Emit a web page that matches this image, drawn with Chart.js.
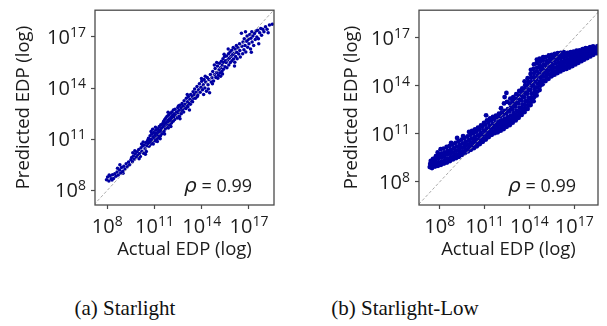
<!DOCTYPE html>
<html>
<head>
<meta charset="utf-8">
<script src="https://cdn.jsdelivr.net/npm/chart.js@4.4.0/dist/chart.umd.min.js"></script>
<style>
  body { margin: 0; background: #fff; }
  #wrap { position: relative; width: 607px; height: 326px; overflow: hidden; }
  canvas { position: absolute; top: 0; }
  .cap { position: absolute; top: 298px; width: 240px; text-align: center;
         font: 21px "Liberation Serif", "Times New Roman", serif; line-height: 21px; color: #111; }
</style>
</head>
<body>
<div id="wrap">
  <canvas id="chartA" width="300" height="270" style="left:0"></canvas>
  <canvas id="chartB" width="307" height="270" style="left:300px"></canvas>
  <div class="cap" style="left:5px">(a) Starlight</div>
  <div class="cap" style="left:285px">(b) Starlight-Low</div>
</div>
<script>
// values are log10 exponents: [actual, predicted]
const starlightPts = [
  [7.95,8.62],[8.02,8.78],[8.1,8.55],[8.18,8.84],[8.25,8.68],[8.33,8.92],[8.4,8.7],[8.48,8.98],[8.55,8.82],[8.62,9.08],
  [8.7,8.9],[8.78,9.2],[8.85,9.02],[8.9,9.34],[8.98,9.12],[9.05,9.42],[9.12,9.25],[9.2,9.56],[9.28,9.38],[9.35,9.66],
  [9.42,9.5],[9.5,9.8],[8.3,8.6],[8.65,9.3],[9.0,9.0],[8.12,8.9],[8.8,9.5],
  [9.55,9.92],[9.6,9.68],[9.66,10.02],[9.72,9.82],[9.78,10.14],[9.84,9.96],[9.9,10.26],[9.95,10.06],[10.0,10.4],[10.05,10.16],
  [10.1,9.98],[10.14,10.5],[10.2,10.3],[10.25,10.6],[10.3,10.18],[10.35,10.66],[10.4,10.44],[10.45,10.8],[10.48,10.28],[10.52,10.62],
  [9.75,10.32],[10.02,9.86],[10.28,10.84],[10.42,10.12],[9.62,10.2],[10.18,10.72],
  [10.56,10.92],[10.6,10.75],[10.62,11.05],[10.65,10.58],[10.7,10.95],[10.72,11.2],[10.75,10.7],[10.8,11.0],[10.82,11.3],[10.85,10.85],
  [10.9,11.15],[10.92,10.72],[10.95,11.4],[11.0,11.05],[11.02,11.25],[11.05,10.9],[11.08,11.52],[11.1,11.15],[11.12,11.35],[11.15,11.0],
  [11.2,11.62],[11.22,11.25],[11.25,11.45],[11.28,11.1],[11.3,11.75],[11.32,11.4],[11.35,11.56],[11.38,11.2],[11.4,11.85],[11.42,11.5],
  [11.45,11.66],[11.48,11.32],[10.78,11.45],[11.18,10.86],[10.68,10.82],[11.06,11.7],[10.88,11.58],[11.36,11.02],
  [11.52,11.92],[11.55,11.75],[11.58,12.05],[11.6,11.45],[11.62,11.85],[11.65,12.15],[11.68,11.6],[11.7,11.95],[11.72,12.25],[11.75,11.7],
  [11.78,12.0],[11.8,12.35],[11.82,11.8],[11.85,12.1],[11.88,11.66],[11.9,12.42],[11.92,12.0],[11.95,12.2],[11.98,11.85],[12.0,12.52],
  [12.02,12.1],[12.05,12.3],[12.08,11.95],[12.1,12.6],[12.12,12.2],[12.15,12.4],[12.18,12.05],[12.2,12.72],[12.22,12.3],[12.25,12.5],
  [12.28,12.15],[12.3,12.76],[12.35,12.4],[12.4,12.6],[12.45,12.25],[12.48,12.86],[11.64,11.3],[12.04,11.74],[11.86,12.58],
  [12.5,12.55],[12.52,12.95],[12.55,12.7],[12.58,12.35],[12.6,13.0],[12.65,12.65],[12.68,12.85],[12.7,12.5],[12.75,13.1],[12.78,12.75],
  [12.8,12.95],[12.85,12.6],[12.88,13.25],[12.9,12.85],[12.95,13.05],[13.0,12.8],[13.02,13.4],[13.05,13.0],[13.1,13.2],[13.12,12.9],
  [13.15,13.5],[13.2,13.1],[13.25,13.35],[13.28,13.05],[13.3,13.62],[13.35,13.25],[13.4,13.5],[13.42,13.2],[13.45,13.78],[13.48,13.4],
  [12.62,12.2],[13.08,13.62],[13.22,12.72],
  [13.52,13.62],[13.55,13.95],[13.6,13.4],[13.65,13.75],[13.7,14.1],[13.75,13.6],[13.8,13.9],[13.85,14.25],[13.9,13.75],[13.95,14.05],
  [14.0,14.4],[14.05,13.9],[14.1,14.2],[14.15,14.5],[14.2,14.0],[14.25,14.35],[14.3,13.82],[14.35,14.62],[14.4,14.2],[14.45,14.5],
  [14.5,13.72],[14.55,14.8],[14.42,13.95],[14.6,14.35],[14.22,14.7],[13.72,13.5],[13.98,14.56],[14.12,13.62],
  [14.65,14.6],[14.7,14.98],[14.75,14.42],[14.8,14.78],[14.85,15.15],[14.9,14.62],[14.95,14.92],[15.0,15.3],[15.05,14.76],[15.1,15.08],
  [15.12,15.46],[15.15,14.88],[15.2,15.2],[15.25,15.58],[15.28,14.98],[15.3,15.36],[15.35,15.72],[15.38,15.1],[15.4,15.5],[15.45,15.86],
  [15.48,15.25],[15.5,15.6],[14.95,15.5],[15.2,14.7],[15.42,15.98],[15.02,14.58],[14.8,15.35],[14.68,14.25],[15.32,14.82],
  [15.55,15.5],[15.58,15.88],[15.6,15.2],[15.65,15.65],[15.7,16.02],[15.72,15.35],[15.75,15.75],[15.8,16.12],[15.82,15.5],[15.85,15.85],
  [15.9,16.22],[15.92,15.6],[15.95,15.95],[16.0,16.38],[16.02,15.7],[16.05,16.05],[16.1,15.52],[16.12,16.3],[16.15,15.85],[16.2,16.5],
  [16.22,16.1],[16.25,15.72],[16.3,16.36],[16.35,16.0],[16.4,16.6],[16.42,16.2],[16.45,15.82],[16.52,17.22],[15.68,16.3],[16.08,15.3],
  [16.55,16.45],[16.6,16.02],[16.62,16.7],[16.68,16.25],[16.7,16.9],[16.75,16.5],[16.8,16.12],[16.85,16.75],[16.88,17.05],[16.92,16.4],
  [16.95,16.85],[17.0,16.6],[17.05,17.15],[17.1,16.3],[17.12,16.92],[17.18,17.3],[17.2,16.7],[17.25,17.05],[17.3,16.5],[17.35,17.2],
  [17.4,16.85],[17.45,17.35],[16.78,17.3],[17.15,16.1],
  [17.5,17.0],[17.55,17.4],[17.6,16.9],[17.68,17.25],[17.75,17.5],[17.8,17.1],[17.88,17.45],[17.95,17.3],[18.05,17.6],[18.15,17.45],
  [18.3,17.7],[18.48,17.75],[17.62,16.6],[18.22,17.25]
];

const lowPts = [
  [7.33,8.92],[7.36,9.12],[7.4,9.3],
  [7.48,8.86],[7.52,9.05],[7.5,9.24],[7.55,9.44],
  [7.68,8.95],[7.72,9.16],[7.7,9.38],[7.74,9.6],
  [7.88,9.0],[7.92,9.2],[7.9,9.44],[7.94,9.68],[7.86,9.84],
  [8.08,9.06],[8.12,9.28],[8.1,9.54],[8.14,9.78],[8.06,10.04],
  [8.28,9.14],[8.32,9.36],[8.3,9.6],[8.34,9.84],[8.26,10.08],
  [8.48,9.2],[8.52,9.44],[8.5,9.7],[8.54,9.94],[8.46,10.18],
  [8.68,9.3],[8.72,9.54],[8.7,9.78],[8.74,10.0],[8.66,10.24],[8.76,10.44],
  [8.88,9.4],[8.92,9.6],[8.9,9.84],[8.94,10.1],[8.86,10.34],
  [9.08,9.48],[9.12,9.7],[9.1,9.94],[9.14,10.2],[9.06,10.44],[9.16,10.74],
  [9.28,9.56],[9.32,9.8],[9.3,10.04],[9.34,10.3],[9.26,10.54],
  [9.48,9.68],[9.52,9.9],[9.5,10.14],[9.54,10.4],[9.46,10.64],[9.56,10.86],
  [9.68,9.8],[9.72,10.0],[9.7,10.24],[9.74,10.5],[9.66,10.74],
  [9.88,9.9],[9.92,10.1],[9.9,10.34],[9.94,10.6],[9.86,10.84],[9.96,11.12],
  [10.08,10.0],[10.12,10.2],[10.1,10.44],[10.14,10.7],[10.06,10.94],[10.16,11.18],
  [10.28,10.1],[10.32,10.3],[10.3,10.54],[10.34,10.8],[10.26,11.04],[10.36,11.28],
  [10.48,10.22],[10.52,10.4],[10.5,10.64],[10.54,10.9],[10.46,11.14],[10.56,11.38],
  [10.68,10.36],[10.72,10.56],[10.7,10.8],[10.74,11.04],[10.66,11.28],[10.76,11.52],
  [10.88,10.5],[10.92,10.7],[10.9,10.94],[10.94,11.2],[10.86,11.44],[10.96,11.68],
  [11.08,10.64],[11.12,10.86],[11.1,11.1],[11.14,11.34],[11.06,11.58],[11.16,11.84],[11.1,12.16],
  [11.28,10.8],[11.32,11.0],[11.3,11.24],[11.34,11.5],[11.26,11.74],[11.36,11.96],
  [11.48,10.94],[11.52,11.14],[11.5,11.38],[11.54,11.6],[11.46,11.84],[11.56,12.06],
  [11.68,11.04],[11.72,11.24],[11.7,11.46],[11.74,11.7],[11.66,11.94],[11.76,12.14],
  [11.88,11.1],[11.92,11.3],[11.9,11.54],[11.94,11.8],[11.86,12.04],[11.96,12.26],
  [12.08,11.2],[12.12,11.4],[12.1,11.6],[12.14,11.84],[12.06,12.1],[12.16,12.34],[12.1,12.6],
  [12.28,11.3],[12.32,11.5],[12.3,11.7],[12.34,11.94],[12.26,12.2],[12.36,12.44],[12.3,12.9],[12.34,13.3],
  [12.48,11.44],[12.52,11.6],[12.5,11.8],[12.54,12.04],[12.46,12.3],[12.56,12.54],[12.5,13.0],[12.46,13.56],
  [12.68,11.54],[12.72,11.7],[12.7,11.9],[12.74,12.14],[12.66,12.4],[12.76,12.64],[12.7,12.9],[12.72,13.2],
  [12.88,11.7],[12.92,11.86],[12.9,12.06],[12.94,12.3],[12.86,12.54],[12.96,12.8],[12.9,13.04],[12.92,13.3],
  [13.08,11.84],[13.12,12.0],[13.1,12.2],[13.14,12.44],[13.06,12.7],[13.16,12.94],[13.1,13.2],[13.12,13.48],
  [13.28,12.0],[13.32,12.2],[13.3,12.4],[13.34,12.64],[13.26,12.9],[13.36,13.14],[13.3,13.4],[13.32,13.68],
  [13.48,12.18],[13.52,12.36],[13.5,12.6],[13.54,12.84],[13.46,13.1],[13.56,13.34],[13.5,13.6],[13.52,13.84],
  [13.68,12.36],[13.72,12.56],[13.7,12.8],[13.74,13.04],[13.66,13.3],[13.76,13.54],[13.7,13.8],[13.72,14.04],[13.68,14.28],
  [13.88,12.56],[13.92,12.76],[13.9,13.0],[13.94,13.24],[13.86,13.5],[13.96,13.74],[13.9,14.0],[13.92,14.24],[13.88,14.48],
  [14.08,12.8],[14.12,13.0],[14.1,13.24],[14.14,13.5],[14.06,13.74],[14.16,14.0],[14.1,14.24],[14.12,14.5],[14.08,14.74],[14.1,15.0],
  [14.28,13.04],[14.32,13.3],[14.3,13.54],[14.34,13.8],[14.26,14.04],[14.36,14.3],[14.3,14.54],[14.32,14.8],[14.28,15.06],[14.3,15.34],
  [14.48,13.4],[14.52,13.64],[14.5,13.9],[14.54,14.14],[14.46,14.4],[14.56,14.64],[14.5,14.9],[14.52,15.14],[14.48,15.42],[14.5,15.64],
  [14.68,13.74],[14.72,14.0],[14.7,14.24],[14.74,14.5],[14.66,14.74],[14.76,15.0],[14.7,15.24],[14.72,15.5],[14.68,15.7],
  [14.88,14.1],[14.92,14.34],[14.9,14.6],[14.94,14.84],[14.86,15.1],[14.96,15.34],[14.9,15.6],[14.92,15.8],
  [15.08,14.3],[15.12,14.54],[15.1,14.8],[15.14,15.04],[15.06,15.3],[15.16,15.54],[15.1,15.8],
  [15.28,14.44],[15.32,14.7],[15.3,14.94],[15.34,15.2],[15.26,15.44],[15.36,15.7],[15.3,15.9],
  [15.48,14.6],[15.52,14.8],[15.5,15.04],[15.54,15.3],[15.46,15.54],[15.56,15.76],[15.5,15.94],
  [15.68,14.7],[15.72,14.9],[15.7,15.14],[15.74,15.4],[15.66,15.6],[15.76,15.8],[15.7,16.0],
  [15.88,14.8],[15.92,15.0],[15.9,15.2],[15.94,15.44],[15.86,15.64],[15.96,15.84],[15.9,16.04],
  [16.08,14.9],[16.12,15.1],[16.1,15.3],[16.14,15.5],[16.06,15.7],[16.16,15.9],[16.1,16.06],
  [16.28,15.0],[16.32,15.2],[16.3,15.4],[16.34,15.6],[16.26,15.8],[16.36,15.96],[16.3,16.1],
  [16.48,15.06],[16.52,15.26],[16.5,15.46],[16.54,15.66],[16.46,15.86],[16.56,16.06],
  [16.68,15.14],[16.72,15.34],[16.7,15.54],[16.74,15.74],[16.66,15.92],[16.76,16.1],
  [16.88,15.24],[16.92,15.44],[16.9,15.64],[16.94,15.8],[16.86,15.96],[16.96,16.14],
  [17.08,15.34],[17.12,15.54],[17.1,15.7],[17.14,15.86],[17.06,16.02],[17.16,16.2],
  [17.28,15.44],[17.32,15.6],[17.3,15.76],[17.34,15.92],[17.26,16.06],[17.36,16.22],
  [17.48,15.54],[17.52,15.7],[17.5,15.86],[17.54,16.0],[17.46,16.16],[17.56,16.3],
  [17.68,15.64],[17.72,15.8],[17.7,15.96],[17.74,16.1],[17.66,16.24],[17.76,16.36],
  [17.88,15.74],[17.92,15.9],[17.9,16.06],[17.94,16.2],[17.86,16.34],
  [18.08,15.84],[18.12,16.0],[18.1,16.16],[18.14,16.3],[18.06,16.42],
  [18.28,15.94],[18.32,16.1],[18.3,16.24],[18.34,16.36],[18.26,16.46],
  [18.48,16.04],[18.52,16.2],[18.5,16.32],[18.54,16.46],
  [18.6,16.14],[18.58,16.34],[18.62,16.5]
];

// axis ranges (log10) and ticks
const rangeAx = [7.22, 18.59], rangeAy = [7.14, 18.57];
const rangeBx = [6.61, 18.59], rangeBy = [6.55, 18.73];
const tickExps = [8, 11, 14, 17];
const rhoText = ' = 0.99';

const dotColor = '#0000a2';
const frameColor = '#4a4a4a';
const textColor = '#1c1c1c';

function drawPow(ctx, exp, x, baseline, align) {
  ctx.font = '20px "Open Sans"';
  const w1 = ctx.measureText('10').width;
  ctx.font = '14px "Open Sans"';
  const w2 = ctx.measureText(String(exp)).width;
  const x0 = align === 'center' ? x - (w1 + w2) / 2 : x - (w1 + w2);
  ctx.textAlign = 'left';
  ctx.textBaseline = 'alphabetic';
  ctx.font = '20px "Open Sans"';
  ctx.fillText('10', x0, baseline);
  ctx.font = '14px "Open Sans"';
  ctx.fillText(String(exp), x0 + w1, baseline - 7);
}

const framePlugin = {
  id: 'frame',
  afterDraw(chart) {
    const {ctx, chartArea: a, scales} = chart;
    ctx.save();
    ctx.strokeStyle = frameColor;
    ctx.lineWidth = 1.3;
    ctx.strokeRect(a.left, a.top, a.right - a.left, a.bottom - a.top);
    ctx.fillStyle = textColor;
    tickExps.forEach(e => {
      drawPow(ctx, e, scales.x.getPixelForValue(10 ** e), a.bottom + 28, 'center');
      drawPow(ctx, e, a.left - 9, scales.y.getPixelForValue(10 ** e) + 7, 'right');
    });
    // rho annotation
    ctx.font = '18px "Open Sans"';
    const w = ctx.measureText(rhoText).width;
    const xr = a.right - 22, yb = a.bottom - 13;
    ctx.textAlign = 'right';
    ctx.fillText(rhoText, xr, yb);
    ctx.font = 'italic 20px "DejaVu Sans"';
    ctx.fillText('ρ', xr - w, yb);
    ctx.restore();
  }
};

function makeChart(id, pts, rx, ry, padLeft, yWidth, padRight, dotSize) {
  const titleFont = {family: 'Open Sans', size: 18.5};
  const diag = [{x: 1e5, y: 1e5}, {x: 1e20, y: 1e20}];
  return new Chart(document.getElementById(id), {
    type: 'scatter',
    data: {
      datasets: [
        {
          data: diag, showLine: true, pointRadius: 0, borderColor: '#a0a0a0',
          borderWidth: 0.9, borderDash: [3, 2]
        },
        {
          data: pts.map(p => ({x: 10 ** p[0], y: 10 ** p[1]})),
          pointRadius: dotSize, pointBorderWidth: 0, backgroundColor: dotColor
        }
      ]
    },
    options: {
      responsive: false,
      animation: false,
      devicePixelRatio: 1,
      layout: {padding: {left: padLeft, right: padRight, top: 6, bottom: 0}},
      plugins: {legend: {display: false}, tooltip: {enabled: false}},
      scales: {
        x: {
          type: 'logarithmic', min: 10 ** rx[0], max: 10 ** rx[1],
          afterBuildTicks: s => { s.ticks = tickExps.map(e => ({value: 10 ** e})); },
          afterFit: s => { s.height = 65; },
          ticks: {callback: () => ''},
          grid: {drawOnChartArea: false, tickLength: 4, tickColor: frameColor, tickWidth: 1.2},
          border: {display: false},
          title: {display: true, text: 'Actual EDP (log)', font: titleFont, color: textColor, padding: 9}
        },
        y: {
          type: 'logarithmic', min: 10 ** ry[0], max: 10 ** ry[1],
          afterBuildTicks: s => { s.ticks = tickExps.map(e => ({value: 10 ** e})); },
          afterFit: s => { s.width = yWidth; },
          ticks: {callback: () => ''},
          grid: {drawOnChartArea: false, tickLength: 4, tickColor: frameColor, tickWidth: 1.2},
          border: {display: false},
          title: {display: true, text: 'Predicted EDP (log)', font: titleFont, color: textColor, padding: 13}
        }
      }
    },
    plugins: [framePlugin]
  });
}

makeChart('chartA', starlightPts, rangeAx, rangeAy, 0, 95, 26, 1.75);
makeChart('chartB', lowPts, rangeBx, rangeBy, 28, 91, 9, 2.4);
</script>
</body>
</html>
